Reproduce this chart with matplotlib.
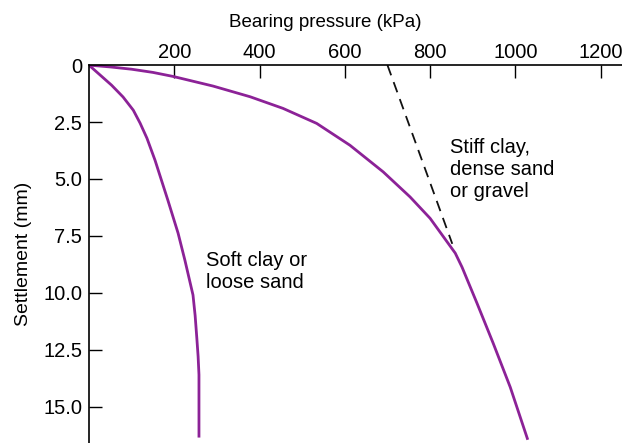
import matplotlib.pyplot as plt
import numpy as np

plt.rcParams['font.family'] = ['Liberation Sans', 'DejaVu Sans']

# load-settlement curves
soft_pressure = [0, 53, 80, 104, 120, 136, 155, 185, 209, 225, 244, 249, 253, 256, 258, 258]
soft_settlement = [0, 0.88, 1.4, 1.98, 2.55, 3.21, 4.18, 5.93, 7.38, 8.57, 10.1, 11.0,
                   12.0, 12.8, 13.6, 16.3]

stiff_pressure = [0, 50, 100, 150, 198, 291, 378, 455, 534, 612, 690, 753, 800, 859, 875,
                  910, 948, 988, 1028]
stiff_settlement = [0, 0.08, 0.18, 0.32, 0.5, 0.92, 1.39, 1.90, 2.56, 3.52, 4.69, 5.79, 6.73,
                    8.26, 8.88, 10.46, 12.22, 14.15, 16.4]

# tangent to the stiff curve
tangent_pressure = [700, 852]
tangent_settlement = [0, 7.85]

x_ticks = [200, 400, 600, 800, 1000, 1200]
y_ticks = [0, 2.5, 5.0, 7.5, 10.0, 12.5, 15.0]
y_tick_labels = ['0', '2.5', '5.0', '7.5', '10.0', '12.5', '15.0']

purple = '#8c2297'

fig = plt.figure(figsize=(6.22, 4.43), dpi=100)
ax = fig.add_axes([0.143, 0.0, 0.857, 0.853])

ax.plot(soft_pressure, soft_settlement, color=purple, lw=2.0, solid_joinstyle='round')
ax.plot(stiff_pressure, stiff_settlement, color=purple, lw=2.0, solid_joinstyle='round')
ax.plot(tangent_pressure, tangent_settlement, color='#111111', lw=1.3, dashes=(6, 4))

ax.set_xlim(0, 1250)
ax.set_ylim(16.6, 0)

ax.xaxis.set_ticks_position('top')
ax.xaxis.set_label_position('top')
ax.set_xticks(x_ticks)
ax.set_yticks(y_ticks)
ax.set_yticklabels(y_tick_labels)
ax.tick_params(axis='x', direction='in', length=9, width=1, pad=2, labelsize=14.5)
ax.tick_params(axis='y', direction='in', length=9, width=1, pad=5, labelsize=14.5)

for side in ['right', 'bottom']:
    ax.spines[side].set_visible(False)
for side in ['left', 'top']:
    ax.spines[side].set_linewidth(1.2)

ax.set_xlabel('Bearing pressure (kPa)', fontsize=13.5)
ax.xaxis.set_label_coords(0.443, 1.10)
ax.set_ylabel('Settlement (mm)', fontsize=14, labelpad=8)

ax.text(275, 8.15, 'Soft clay or\nloose sand', fontsize=14.5, va='top', ha='left', linespacing=1.2)
ax.text(847, 3.2, 'Stiff clay,\ndense sand\nor gravel', fontsize=14.5, va='top', ha='left', linespacing=1.2)

fig.savefig('out.png', dpi=100)
